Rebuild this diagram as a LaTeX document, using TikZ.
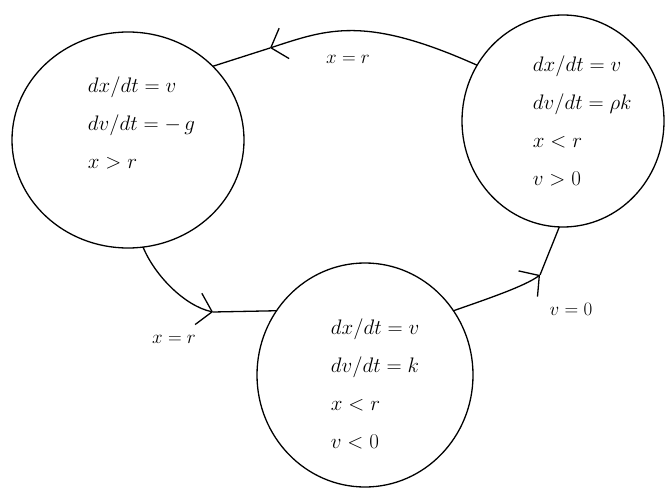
\RequirePackage{fix-cm}
\documentclass[tikz,border=0pt]{standalone}
\usepackage{tikz}
\usepackage{mathtools}
\usetikzlibrary{positioning,shapes.geometric,arrows.meta}

\begin{document}
\begin{tikzpicture}[x=1pt, y=1pt, line width=1.3pt,
    state/.style={draw, ellipse, inner sep=0pt, outer sep=0pt},
    eqs/.style={anchor=west, align=left, font=\fontsize{21}{38}\selectfont},
    guard/.style={font=\fontsize{19}{21}\selectfont},
    barb/.style={-{Straight Barb[length=14pt, width=32pt]}}]
    \useasboundingbox (0,0) rectangle (666,491);

    % Nodes
    \node[state, minimum width=232, minimum height=216] (fall) at (128,351) {};
    \node[state, minimum width=202, minimum height=212] (rise) at (563,370) {};
    \node[state, minimum width=216, minimum height=224] (contact) at (365,116) {};

    \node[eqs] (falleq) at (84,368) {$dx/dt = v$\\ $dv/dt = -\,g$\\ $x > r$};
    \node[eqs] (riseeq) at (529,370) {$dx/dt = v$\\ $dv/dt = \rho k$\\ $x < r$\\ $v > 0$};
    \node[eqs] (contacteq) at (327,107) {$dx/dt = v$\\ $dv/dt = k$\\ $x < r$\\ $v < 0$};

    \coordinate (a1) at (270,443);
    \coordinate (a2) at (213,179);
    \coordinate (a3) at (540,216);

    % Arrows
    \draw[barb] (rise.147) .. controls (365,476) and (328,462) .. (a1);
    \draw (a1) -- (fall.41);
    \draw[barb] (fall.278) .. controls (155,215) and (185,185) .. (a2);
    \draw (a2) -- (contact.144);
    \draw[barb] (contact.36) .. controls (490,193) and (525,205) .. (a3);
    \draw (a3) -- (rise.268);

    % Labels
    \node[guard] (g1) at (348,432) {$x = r$};
    \node[guard] (g2) at (174,152) {$x = r$};
    \node[guard] (g3) at (571,182) {$v = 0$};
\end{tikzpicture}
\end{document}
